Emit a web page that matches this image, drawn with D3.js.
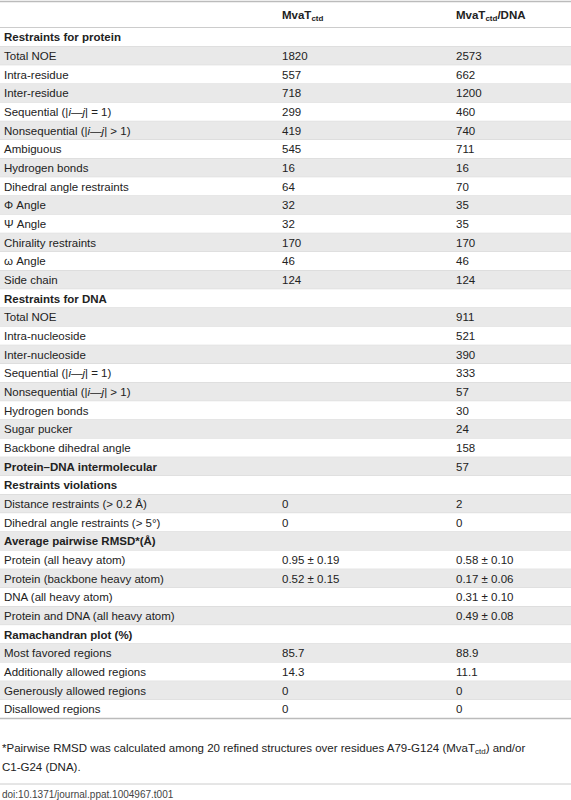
<!DOCTYPE html>
<html><head><meta charset="utf-8">
<script src="https://cdn.jsdelivr.net/npm/d3@7"></script>
<style>body{margin:0;background:#fff}</style></head>
<body><div id="chart"></div>
<script>
// row labels, bold = section heading
const I = s => `<tspan font-style="italic">${s}</tspan>`;
const labels = ["Restraints for protein","Total NOE","Intra-residue","Inter-residue",`Sequential (|${I("i")}—${I("j")}| = 1)`,`Nonsequential (|${I("i")}—${I("j")}| > 1)`,"Ambiguous","Hydrogen bonds","Dihedral angle restraints","Φ Angle","Ψ Angle","Chirality restraints","ω Angle","Side chain",
 "Restraints for DNA","Total NOE","Intra-nucleoside","Inter-nucleoside",`Sequential (|${I("i")}—${I("j")}| = 1)`,`Nonsequential (|${I("i")}—${I("j")}| > 1)`,"Hydrogen bonds","Sugar pucker","Backbone dihedral angle",
 "Protein–DNA intermolecular","Restraints violations","Distance restraints (> 0.2 Å)","Dihedral angle restraints (> 5°)",
 "Average pairwise RMSD*(Å)","Protein (all heavy atom)","Protein (backbone heavy atom)","DNA (all heavy atom)","Protein and DNA (all heavy atom)",
 "Ramachandran plot (%)","Most favored regions","Additionally allowed regions","Generously allowed regions","Disallowed regions"];
const headings = ["Restraints for protein","Restraints for DNA","Protein–DNA intermolecular","Restraints violations","Average pairwise RMSD*(Å)","Ramachandran plot (%)"];
const mvat = ["","1820","557","718","299","419","545","16","64","32","32","170","46","124",
 "","","","","","","","","","","","0","0","","0.95 ± 0.19","0.52 ± 0.15","","","","85.7","14.3","0","0"];
const complex = ["","2573","662","1200","460","740","711","16","70","35","35","170","46","124",
 "","911","521","390","333","57","30","24","158","57","","2","0","","0.58 ± 0.10","0.17 ± 0.06","0.31 ± 0.10","0.49 ± 0.08","","88.9","11.1","0","0"];

const W = 571, H = 800;
const svg = d3.select("#chart").append("svg").attr("width", W).attr("height", H)
  .style("font-family","'Liberation Sans',Arial,sans-serif").style("font-size","11.5px").attr("fill","#222");

const y = d3.scaleBand().domain(d3.range(labels.length)).range([28, 718.5]);
const colX = {label: 4, mvat: 282, complex: 456};

svg.append("line").attr("x1",0).attr("x2",W).attr("y1",1.5).attr("y2",1.5).attr("stroke","#bbb").attr("stroke-width",1.5);
svg.append("line").attr("x1",0).attr("x2",W).attr("y1",28).attr("y2",28).attr("stroke","#bbb").attr("stroke-width",1.5);

const head = svg.append("g").attr("font-weight","bold");
head.append("text").attr("x",colX.mvat).attr("y",19).html('MvaT<tspan font-size="8" dy="2">ctd</tspan>');
head.append("text").attr("x",colX.complex).attr("y",19).html('MvaT<tspan font-size="8" dy="2">ctd</tspan><tspan dy="-2">/DNA</tspan>');

const rows = svg.selectAll("g.row").data(labels).join("g").attr("class","row")
  .attr("transform",(d,i)=>`translate(0,${y(i)})`);
rows.append("rect").attr("width",W).attr("height",y.bandwidth())
  .attr("fill",(d,i)=> i%2===1 ? "#e9e9e9" : "#fff");
rows.append("line").attr("x1",0).attr("x2",W).attr("y1",y.bandwidth()).attr("y2",y.bandwidth()).attr("stroke","#d4d4d4");
rows.append("text").attr("x",colX.label).attr("y",y.bandwidth()/2+4)
  .attr("font-weight",d=>headings.includes(d)?"bold":null).html(d=>d);
rows.append("text").attr("x",colX.mvat).attr("y",y.bandwidth()/2+4).text((d,i)=>mvat[i]);
rows.append("text").attr("x",colX.complex).attr("y",y.bandwidth()/2+4).text((d,i)=>complex[i]);

svg.append("line").attr("x1",0).attr("x2",W).attr("y1",718.5).attr("y2",718.5).attr("stroke","#bbb").attr("stroke-width",1.5);
svg.append("text").attr("x",2).attr("y",752).html('*Pairwise RMSD was calculated among 20 refined structures over residues A79-G124 (MvaT<tspan font-size="8" dy="2">ctd</tspan><tspan dy="-2">) and/or</tspan>');
svg.append("text").attr("x",2).attr("y",771).text("C1-G24 (DNA).");
svg.append("line").attr("x1",0).attr("x2",W).attr("y1",784).attr("y2",784).attr("stroke","#ccc");
svg.append("text").attr("x",2).attr("y",798).attr("font-size","10px").attr("fill","#444").text("doi:10.1371/journal.ppat.1004967.t001");
</script></body></html>
